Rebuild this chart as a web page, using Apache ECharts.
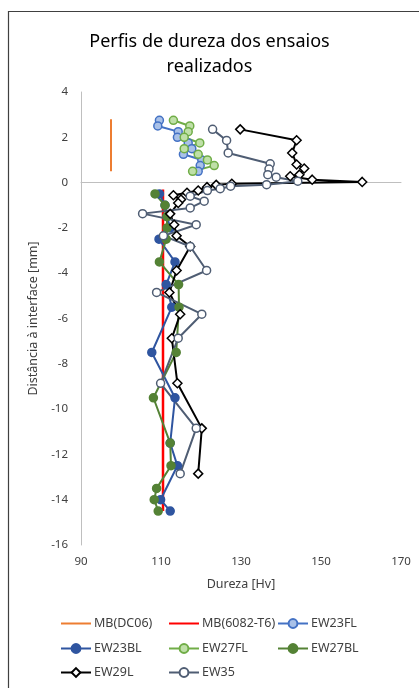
<!DOCTYPE html>
<html><head><meta charset="utf-8">
<script src="https://cdn.jsdelivr.net/npm/echarts@6/dist/echarts.min.js"></script>
<style>html,body{margin:0;padding:0;background:#fff}#c{width:419px;height:688px}</style>
</head><body><div id="c"></div>
<script>
// ---- data ----
const xTicks = [90, 110, 130, 150, 170];
const yTicks = [-16, -14, -12, -10, -8, -6, -4, -2, 0, 2, 4];

const mbDC06_x = [97.5, 97.5];
const mbDC06_y = [2.8, 0.5];
const mb6082_x = [110.5, 110.5];
const mb6082_y = [-0.3, -14.5];

const ew23FL_x = [109.6, 109.2, 114.3, 114.1, 116.8, 117.7, 115.6, 120.2, 119.8, 119.3];
const ew23FL_y = [2.75, 2.5, 2.25, 2.0, 1.75, 1.5, 1.25, 1.0, 0.75, 0.5];

const ew27FL_x = [113.1, 117.2, 116.8, 115.8, 119.7, 115.8, 119.3, 121.6, 123.3, 117.9];
const ew27FL_y = [2.75, 2.5, 2.25, 2.0, 1.75, 1.5, 1.25, 1.0, 0.75, 0.5];

const ew23BL_x = [109.6, 111.0, 111.5, 112.3, 109.5, 113.5, 111.3, 112.7, 107.7, 113.5, 112.3, 114.1, 109.9, 112.3];
const ew23BL_y = [-0.5, -1.0, -1.5, -2.0, -2.5, -3.5, -4.5, -5.5, -7.5, -9.5, -11.5, -12.5, -14.0, -14.5];

const ew27BL_x = [108.5, 111.0, 111.5, 111.5, 111.3, 109.6, 114.4, 114.5, 113.8, 108.1, 112.3, 112.5, 108.9, 108.3, 109.3];
const ew27BL_y = [-0.5, -1.0, -1.5, -2.0, -2.5, -3.5, -4.5, -5.5, -7.5, -9.5, -11.5, -12.5, -13.5, -14.0, -14.5];

const ew29L_x = [129.8, 143.9, 142.8, 143.9, 145.8, 144.6, 142.3, 147.8, 160.3, 127.7, 123.8, 121.5, 119.3, 116.5, 113.1, 115.0, 114.3, 112.3, 113.3, 113.9, 117.3, 113.9, 112.1, 114.8, 112.7, 114.1, 120.2, 119.3];
const ew29L_y = [2.35, 1.87, 1.31, 0.8, 0.62, 0.35, 0.28, 0.13, 0.03, -0.05, -0.1, -0.2, -0.35, -0.45, -0.56, -0.75, -0.9, -1.38, -1.86, -2.35, -2.82, -3.88, -4.85, -5.81, -6.87, -8.86, -10.85, -12.85];

const ew35_x = [122.9, 126.4, 126.8, 137.3, 137.0, 136.7, 138.8, 144.2, 136.4, 127.4, 124.8, 121.6, 117.3, 120.8, 117.3, 105.4, 118.8, 110.6, 117.3, 121.4, 108.9, 120.2, 114.3, 109.9, 118.8, 114.8];
const ew35_y = [2.35, 1.86, 1.31, 0.83, 0.6, 0.35, 0.24, 0.06, -0.09, -0.16, -0.27, -0.35, -0.6, -0.82, -1.12, -1.37, -1.86, -2.35, -2.82, -3.88, -4.85, -5.81, -6.87, -8.86, -10.85, -12.85];

const zip = (xs, ys) => xs.map((x, i) => [x, ys[i]]);
const FONT = 'Noto Sans';

const defs = [
  {name: 'MB(DC06)', data: zip(mbDC06_x, mbDC06_y), color: '#ED7D31', symbol: 'none'},
  {name: 'MB(6082-T6)', data: zip(mb6082_x, mb6082_y), color: '#FF0000', symbol: 'none', lw: 2.5},
  {name: 'EW23FL', data: zip(ew23FL_x, ew23FL_y), color: '#4472C4', symbol: 'circle', fill: '#A9C1E8'},
  {name: 'EW23BL', data: zip(ew23BL_x, ew23BL_y), color: '#2F55A0', symbol: 'circle', fill: '#2F55A0'},
  {name: 'EW27FL', data: zip(ew27FL_x, ew27FL_y), color: '#70AD47', symbol: 'circle', fill: '#BFE0A8'},
  {name: 'EW27BL', data: zip(ew27BL_x, ew27BL_y), color: '#548235', symbol: 'circle', fill: '#548235'},
  {name: 'EW29L', data: zip(ew29L_x, ew29L_y), color: '#000000', symbol: 'diamond', fill: '#FFFFFF', size: 9},
  {name: 'EW35', data: zip(ew35_x, ew35_y), color: '#4F5D73', symbol: 'circle', fill: '#FFFFFF'}
];
const series = defs.map(s => ({
  name: s.name, type: 'line', data: s.data,
  symbol: s.symbol, symbolSize: s.size || 8, showSymbol: s.symbol !== 'none',
  lineStyle: {color: s.color, width: s.lw || 2},
  itemStyle: {color: s.fill || s.color, borderColor: s.color, borderWidth: 1.5},
  emphasis: {disabled: true}, animation: false, z: 2
}));

const legPos = [[60, 617], [168, 617], [277, 617], [60, 642], [168, 642], [277, 642], [60, 666], [168, 666]];
const legends = defs.map((s, i) => ({
  data: [s.name], left: legPos[i][0], top: legPos[i][1], padding: 0,
  itemWidth: 30, itemHeight: 11, selectedMode: false,
  itemStyle: s.symbol === 'none' ? {opacity: 0} : {},
  lineStyle: {color: s.color, width: 2},
  textStyle: {fontFamily: FONT, fontSize: 12.5, color: '#404040', padding: [0, 0, 0, -2]}
}));

const chart = echarts.init(document.getElementById('c'));
chart.setOption({
  animation: false,
  title: {
    text: 'Perfis de dureza dos ensaios\nrealizados', left: 'center', top: 24,
    textStyle: {fontFamily: FONT, fontSize: 18, fontWeight: 'normal', color: '#000', lineHeight: 25}
  },
  graphic: [{type: 'rect', shape: {x: 8.5, y: 11.5, width: 500, height: 800},
    style: {fill: 'none', stroke: '#404040', lineWidth: 1.2}, silent: true}],
  legend: legends,
  grid: {left: 81, right: 18, top: 92, bottom: 143, containLabel: false},
  xAxis: {
    type: 'value', min: xTicks[0], max: xTicks[xTicks.length - 1], interval: 20,
    name: 'Dureza [Hv]', nameLocation: 'middle', nameGap: 33,
    nameTextStyle: {fontFamily: FONT, fontSize: 12.5, color: '#404040'},
    axisLine: {show: true, lineStyle: {color: '#BFBFBF', width: 1}},
    axisTick: {show: false}, splitLine: {show: false},
    axisLabel: {fontFamily: FONT, fontSize: 11.5, color: '#404040', margin: 11}
  },
  yAxis: {
    type: 'value', min: yTicks[0], max: yTicks[yTicks.length - 1], interval: 2,
    name: 'Distância à interface [mm]', nameLocation: 'middle', nameGap: 38, nameRotate: 90,
    nameTextStyle: {fontFamily: FONT, fontSize: 12.5, color: '#404040'},
    axisLine: {show: true, onZero: false, lineStyle: {color: '#BFBFBF', width: 1}},
    axisTick: {show: false}, splitLine: {show: false},
    axisLabel: {fontFamily: FONT, fontSize: 11.5, color: '#404040', margin: 13}
  },
  series: series
});
</script></body></html>
